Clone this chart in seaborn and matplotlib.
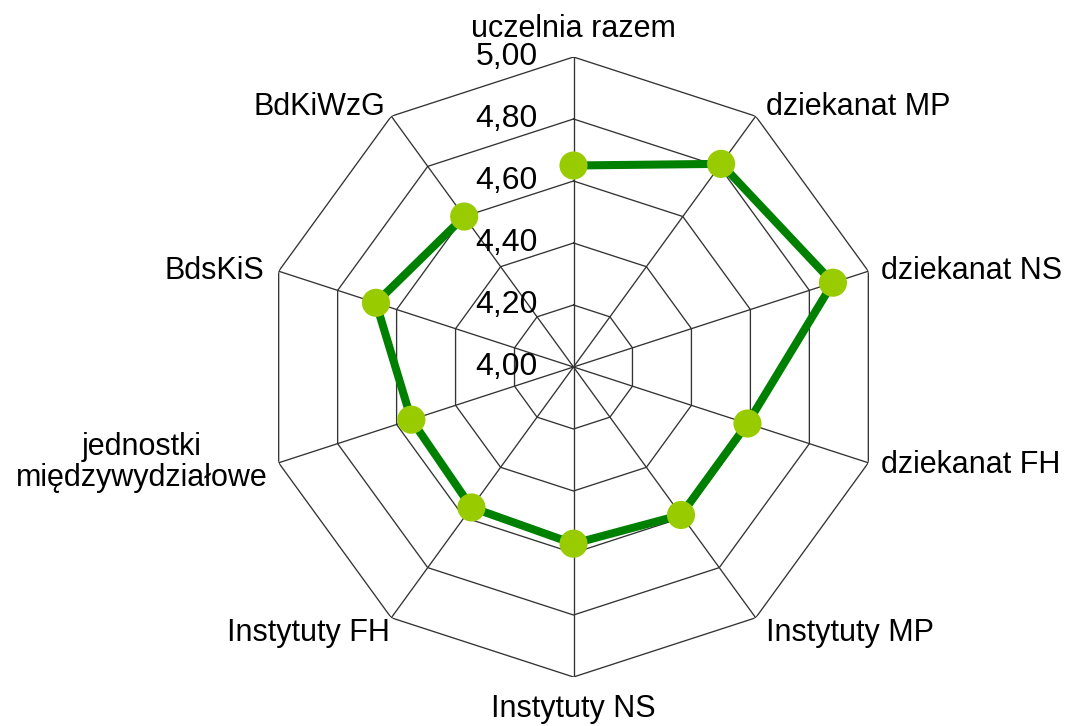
import numpy as np
import pandas as pd
import matplotlib
matplotlib.use("Agg")
import matplotlib.pyplot as plt
import seaborn as sns

categories = ["uczelnia razem", "dziekanat MP", "dziekanat NS", "dziekanat FH",
              "Instytuty MP", "Instytuty NS", "Instytuty FH",
              "jednostki\nmiędzywydziałowe", "BdsKiS", "BdKiWzG"]
values = [4.65, 4.81, 4.88, 4.59, 4.59, 4.57, 4.56, 4.55, 4.67, 4.60]
r_ticks = [4.00, 4.20, 4.40, 4.60, 4.80, 5.00]
r_tick_labels = ["4,00", "4,20", "4,40", "4,60", "4,80", "5,00"]

sns.set_theme(style="white")
plt.rcParams["font.family"] = ["Liberation Sans", "DejaVu Sans"]

W, H, DPI = 1067, 726, 100
fig = plt.figure(figsize=(W / DPI, H / DPI), dpi=DPI)
cx, cy, R = 573.5, 367.0, 310.0
ax = fig.add_axes([(cx - R) / W, 1 - (cy + R) / H, 2 * R / W, 2 * R / H], projection="polar")
ax.set_theta_zero_location("N")
ax.set_theta_direction(-1)
ax.set_ylim(4.0, 5.0)
ax.grid(False)
ax.spines["polar"].set_visible(False)
ax.patch.set_alpha(0)

n = len(categories)
theta = np.arange(n) * 2 * np.pi / n
theta_closed = np.append(theta, theta[0])

grid_col = "#333333"
for r in r_ticks[1:]:
    ax.plot(theta_closed, [r] * (n + 1), color=grid_col, lw=0.95, zorder=1)
for t in theta:
    ax.plot([t, t], [r_ticks[0], r_ticks[-1]], color=grid_col, lw=0.95, zorder=1)

df = pd.DataFrame({"theta": theta_closed, "value": values + [values[0]]})
sns.lineplot(data=df, x="theta", y="value", sort=False, color="#008000", lw=5.8,
             ax=ax, zorder=2, legend=False)
sns.scatterplot(x=theta, y=values, s=410, color="#99cc00", edgecolor="none",
                ax=ax, zorder=3, legend=False)
ax.set_xlabel("")
ax.set_ylabel("")
ax.set_xticks([])
ax.set_yticks([])
ax.set_ylim(4.0, 5.0)

tick_fs = 23
fs = 22
for r, lab in zip(r_ticks, r_tick_labels):
    ax.annotate(lab, xy=(0, r), xytext=(-36, 0), textcoords="offset pixels",
                ha="right", va="center", fontsize=tick_fs, color="#000000",
                annotation_clip=False)

label_specs = [
    ((0, 20), "center", "baseline"),
    ((10, 1), "left", "baseline"),
    ((13, 0), "left", "center"),
    ((13, -2), "left", "center"),
    ((10, -23), "left", "baseline"),
    ((0, -40), "center", "baseline"),
    ((-1, -23), "right", "baseline"),
    ((-11, 0), "right", "center"),
    ((-14, 0), "right", "center"),
    ((-6, 1), "right", "baseline"),
]
for t, lab, (off, ha, va) in zip(theta, categories, label_specs):
    ax.annotate(lab, xy=(t, 5.0), xytext=off, textcoords="offset pixels",
                ha=ha, va=va, fontsize=fs, color="#000000", multialignment="center",
                annotation_clip=False, linespacing=1.05)

fig.savefig("out.png", dpi=DPI, facecolor="white")
